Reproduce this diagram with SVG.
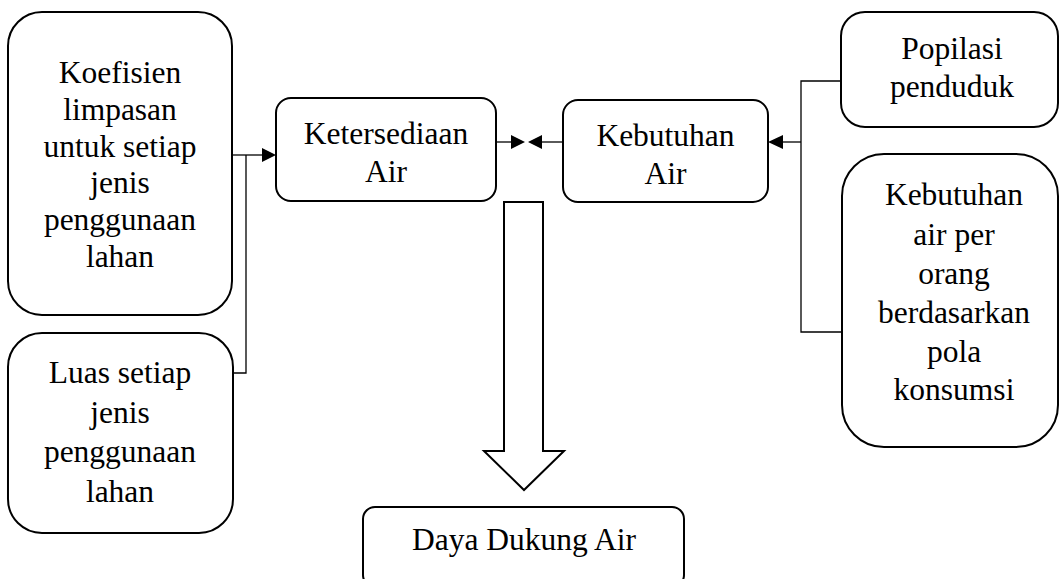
<svg xmlns="http://www.w3.org/2000/svg" width="1060" height="579" viewBox="0 0 1060 579">
<style>
.box{fill:#fff;stroke:#000;stroke-width:2}
.t{font-family:'Liberation Serif','Times New Roman',serif;font-size:31.5px;fill:#000;text-anchor:middle}
.c{fill:none;stroke:#000;stroke-width:1.3}
.ah{fill:#000;stroke:none}
</style>
<rect width="1060" height="579" fill="#fff"/>
<g id="connectors">
<polyline class="c" points="232,155 262,155"/>
<polyline class="c" points="246,155 246,373 233,373"/>
<polygon class="ah" points="262,148 276,155 262,162"/>
<line class="c" x1="496" y1="142" x2="511" y2="142"/>
<polygon class="ah" points="511,135 525,142 511,149"/>
<line class="c" x1="563" y1="142" x2="542" y2="142"/>
<polygon class="ah" points="542,135 528,142 542,149"/>
<polyline class="c" points="841,81 801,81 801,332 842,332"/>
<line class="c" x1="801" y1="142" x2="782" y2="142"/>
<polygon class="ah" points="783,135 768,142 783,149"/>
<polygon class="box" points="504,202 543,202 543,451 564,451 524,490 484,451 504,451"/>
</g>
<g id="n1">
<rect class="box" x="8" y="12" width="224" height="303" rx="34"/>
<text class="t"><tspan x="120" y="83">Koefisien</tspan><tspan x="120" y="119.8">limpasan</tspan><tspan x="120" y="156.6">untuk setiap</tspan><tspan x="120" y="193.4">jenis</tspan><tspan x="120" y="230.2">penggunaan</tspan><tspan x="120" y="267">lahan</tspan></text>
</g>
<g id="n2">
<rect class="box" x="8" y="333" width="225" height="200" rx="34"/>
<text class="t"><tspan x="120" y="383">Luas setiap</tspan><tspan x="120" y="422.5">jenis</tspan><tspan x="120" y="462">penggunaan</tspan><tspan x="120" y="502">lahan</tspan></text>
</g>
<g id="n3">
<rect class="box" x="276" y="98" width="220" height="103" rx="15"/>
<text class="t"><tspan x="386" y="144">Ketersediaan</tspan><tspan x="386" y="182">Air</tspan></text>
</g>
<g id="n4">
<rect class="box" x="563" y="100" width="205" height="102" rx="15"/>
<text class="t"><tspan x="665.5" y="146">Kebutuhan</tspan><tspan x="665.5" y="184">Air</tspan></text>
</g>
<g id="n5">
<rect class="box" x="841" y="12" width="217" height="115" rx="24"/>
<text class="t"><tspan x="952" y="59">Popilasi</tspan><tspan x="952" y="97">penduduk</tspan></text>
</g>
<g id="n6">
<rect class="box" x="842" y="154" width="216" height="293" rx="42"/>
<text class="t"><tspan x="954" y="205">Kebutuhan</tspan><tspan x="954" y="245">air per</tspan><tspan x="954" y="284">orang</tspan><tspan x="954" y="323">berdasarkan</tspan><tspan x="954" y="362">pola</tspan><tspan x="954" y="400">konsumsi</tspan></text>
</g>
<g id="n7">
<rect class="box" x="363" y="507" width="321" height="80" rx="12"/>
<text class="t" x="524" y="550">Daya Dukung Air</text>
</g>
</svg>
